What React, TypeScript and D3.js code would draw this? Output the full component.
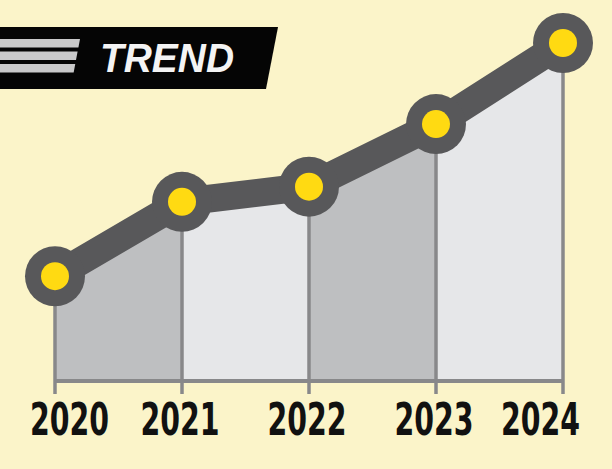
import { useEffect, useRef } from 'react';
import * as d3 from 'd3';

const years = ['2020', '2021', '2022', '2023', '2024'];
const values = [31, 53, 57.5, 76, 100];
const title = 'TREND';

const W = 612;
const H = 469;

export default function App() {
  const ref = useRef<SVGSVGElement>(null);

  useEffect(() => {
    document.body.style.margin = '0';
    const svg = d3.select(ref.current);
    svg.selectAll('*').remove();

    const baseY = 381;
    const x = d3.scalePoint<string>().domain(years).range([55, 563]);
    const y = d3.scaleLinear().domain([0, 100]).range([baseY, 43]);

    svg.append('rect').attr('width', W).attr('height', H).attr('fill', '#FBF4C9');

    // alternating shaded areas under each segment
    const area = d3.area<number>()
      .x((_, i) => x(years[i]) as number)
      .y0(baseY)
      .y1(d => y(d));

    for (let i = 0; i < years.length - 1; i++) {
      const seg = values.map((v, j) => (j === i || j === i + 1 ? v : NaN));
      svg.append('path')
        .datum(seg)
        .attr('d', area.defined(d => !isNaN(d)))
        .attr('fill', i % 2 === 0 ? '#BEBFC1' : '#E6E7E9');
    }

    // baseline
    svg.append('line')
      .attr('x1', x(years[0]) as number).attr('x2', x(years[years.length - 1]) as number)
      .attr('y1', baseY).attr('y2', baseY)
      .attr('stroke', '#88888A').attr('stroke-width', 4);

    // verticals + ticks
    svg.selectAll('line.v')
      .data(values)
      .join('line')
      .attr('class', 'v')
      .attr('x1', (_, i) => x(years[i]) as number)
      .attr('x2', (_, i) => x(years[i]) as number)
      .attr('y1', d => y(d))
      .attr('y2', baseY + 13)
      .attr('stroke', '#88888A')
      .attr('stroke-width', 3.5);

    // line
    const line = d3.line<number>()
      .x((_, i) => x(years[i]) as number)
      .y(d => y(d));

    svg.append('path')
      .datum(values)
      .attr('d', line)
      .attr('fill', 'none')
      .attr('stroke', '#58585A')
      .attr('stroke-width', 28)
      .attr('stroke-linejoin', 'round');

    svg.selectAll('circle.outer')
      .data(values)
      .join('circle')
      .attr('class', 'outer')
      .attr('cx', (_, i) => x(years[i]) as number)
      .attr('cy', d => y(d))
      .attr('r', 30)
      .attr('fill', '#58585A');

    svg.selectAll('circle.inner')
      .data(values)
      .join('circle')
      .attr('class', 'inner')
      .attr('cx', (_, i) => x(years[i]) as number)
      .attr('cy', d => y(d))
      .attr('r', 14)
      .attr('fill', '#FFDA12');

    // year labels, kept inside the picture
    const labelW = 79;
    svg.selectAll('text.year')
      .data(years)
      .join('text')
      .attr('class', 'year')
      .attr('x', d => Math.max(30 + labelW / 2, Math.min(580 - labelW / 2, (x(d) as number) - 2)))
      .attr('y', 435)
      .attr('text-anchor', 'middle')
      .attr('font-family', "'Liberation Sans Narrow', 'DejaVu Sans Condensed', sans-serif")
      .attr('font-weight', 'bold')
      .attr('font-size', 45)
      .attr('textLength', labelW)
      .attr('lengthAdjust', 'spacingAndGlyphs')
      .attr('fill', '#111111')
      .text(d => d);

    // title banner
    const banner = svg.append('g');
    banner.append('path')
      .attr('d', 'M0,27 L278,27 L266,89 L0,89 Z')
      .attr('fill', '#050505');
    const slope = 0.19;
    [39, 51.5, 64].forEach(top => {
      const bot = top + 8.5;
      const xr = (yy: number) => 80 - slope * (yy - 39);
      banner.append('path')
        .attr('d', `M0,${top} L${xr(top)},${top} L${xr(bot)},${bot} L0,${bot} Z`)
        .attr('fill', '#C9C9CA');
    });
    banner.append('text')
      .attr('x', 100)
      .attr('y', 72)
      .attr('font-family', "'Liberation Sans', Arial, sans-serif")
      .attr('font-weight', 'bold')
      .attr('font-style', 'italic')
      .attr('font-size', 40)
      .attr('textLength', 134)
      .attr('lengthAdjust', 'spacingAndGlyphs')
      .attr('fill', '#F4F4F4')
      .text(title);
  }, []);

  return <svg ref={ref} width={W} height={H} style={{ display: 'block' }} />;
}
